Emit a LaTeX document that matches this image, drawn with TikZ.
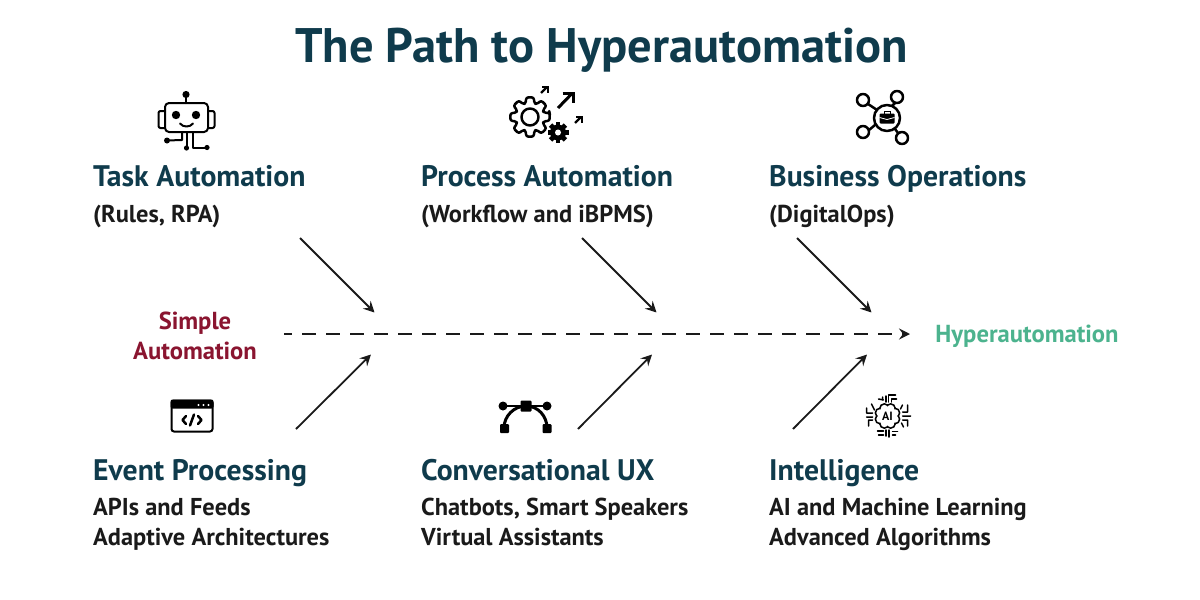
\documentclass[tikz,border=0pt]{standalone}
\usepackage{fontspec}
\setmainfont{PT Sans}
\usetikzlibrary{arrows.meta}
\definecolor{titlec}{HTML}{0F3B4C}
\definecolor{redc}{HTML}{8A1530}
\definecolor{greenc}{HTML}{4CB38E}
\definecolor{bodyc}{HTML}{1A1A1A}
\newcommand{\fs}[1]{\fontsize{#1}{#1}\selectfont}
\tikzset{
  titletext/.style={inner sep=0,anchor=base,text=titlec,font=\fs{48.5}\bfseries},
  headtext/.style={inner sep=0,anchor=base west,text=titlec,font=\fs{29.7}\bfseries},
  subtext/.style={inner sep=0,anchor=base west,text=bodyc,font=\fs{24.4}\bfseries},
  endtext/.style={inner sep=0,anchor=base,font=\fs{24.6}\bfseries},
  spoke/.style={line width=1.8pt,draw=bodyc,-{Stealth[length=11pt,width=11pt,inset=4pt]}},
  spine/.style={line width=1.8pt,draw=bodyc,dash pattern=on 14pt off 10pt,dash phase=6pt,-{Stealth[length=11pt,width=11pt,inset=4pt]}},
  ic/.style={line width=2pt,draw=black,line cap=round,line join=round},
  ict/.style={line width=2.5pt,draw=black,line cap=round,line join=round},
  icsmall/.style={line width=1.5pt,draw=black,line cap=round,line join=round},
}
\begin{document}
\begin{tikzpicture}[x=1pt,y=-1pt]
\useasboundingbox (0,0) rectangle (1200,600);
\fill[white] (0,0) rectangle (1200,600);
\node[titletext] (title) at (601.5,62) {The Path to Hyperautomation};
% top labels
\node[headtext] (h1) at (93,186.5) {Task Automation};
\node[subtext] (s1) at (93,222) {(Rules, RPA)};
\node[headtext] (h2) at (421,186.5) {Process Automation};
\node[subtext] (s2) at (421,222) {(Workflow and iBPMS)};
\node[headtext] (h3) at (769,186.5) {Business Operations};
\node[subtext] (s3) at (769,222) {(DigitalOps)};
% bottom labels
\node[headtext] (h4) at (93,480.5) {Event Processing};
\node[subtext] (s4a) at (93,515) {APIs and Feeds};
\node[subtext] (s4b) at (93,545) {Adaptive Architectures};
\node[headtext] (h5) at (421,480.5) {Conversational UX};
\node[subtext] (s5a) at (421,515) {Chatbots, Smart Speakers};
\node[subtext] (s5b) at (421,545) {Virtual Assistants};
\node[headtext] (h6) at (769,480.5) {Intelligence};
\node[subtext] (s6a) at (769,515) {AI and Machine Learning};
\node[subtext] (s6b) at (769,545) {Advanced Algorithms};
% ends
\node[endtext,text=redc] (simple1) at (195,329) {Simple};
\node[endtext,text=redc] (simple2) at (195,359) {Automation};
\node[endtext,text=greenc] (hyper) at (1027,342) {Hyperautomation};
% connectors
\coordinate (sp0) at (284,334); \coordinate (sp1) at (910,334);
\draw[spine] (sp0) -- (sp1);
\foreach \n/\xa/\ya/\xb/\yb in {a/300/238/374.5/312.5,b/582/238/656.5/312.5,c/797/238/871.5/312.5,d/296/429/371/354.5,e/578/429/652/354.5,f/793/429/867/354.5}{
  \coordinate (\n0) at (\xa,\ya); \coordinate (\n1) at (\xb,\yb);
  \draw[spoke] (\n0) -- (\n1);
}
% robot
\draw[ic,rounded corners=4pt] (165,103) rectangle (208,132);
\draw[ic,rounded corners=2pt] (165,111) -- (158.5,111) -- (158.5,128) -- (165,128);
\draw[ic,rounded corners=2pt] (208,111) -- (214.5,111) -- (214.5,128) -- (208,128);
\fill[black] (186,94.5) circle (3.6);
\draw[ic] (186,95) -- (186,103);
\fill[black] (176,115) circle (4.2) (196,115) circle (4.2);
\draw[ic] (180,123.5) .. controls (183,127.5) and (190,127.5) .. (193,123.5);
\draw[ic] (182,132) -- (182,140) -- (167,140.5);
\fill[black] (167,140.5) circle (3);
\draw[ic] (186.5,132) -- (186.5,147.5);
\fill[black] (186.5,148) circle (2.6);
\draw[ic] (193,132) -- (193,147.5) -- (207,147.5);
\fill[black] (207,147.5) circle (2.6);
% gears
\begin{scope}[shift={(530,117)}]
\draw[ict,rounded corners=2.2pt] (-12:20)
  foreach \a in {0,45,...,315} { -- (\a-11:20) -- (\a+11:20) -- (\a+17:14.5) -- (\a+28:14.5) } -- cycle;
\draw[ict] (0,0) circle (8.5);
\end{scope}
\begin{scope}[shift={(558,132.5)}]
\fill[black] (0,0) circle (8);
\foreach \a in {0,45,...,315}{\fill[black,rotate=\a] (7,-2.4) rectangle (10.5,2.4);}
\fill[white] (0,0) circle (3);
\end{scope}
\draw[line width=3pt,draw=black] (558,108) -- (572,93.5);
\draw[line width=3pt,draw=black] (562.5,93) -- (573,93) -- (573,103);
\draw[line width=2.4pt,draw=black] (541,93) -- (547,87);
\draw[line width=2.6pt,draw=black] (542,87) -- (548,87) -- (548,93);
\draw[line width=2.4pt,draw=black] (575,123) -- (581,117);
\draw[line width=2.6pt,draw=black] (576,117) -- (582,117) -- (582,123);
% network
\draw[ict] (887,118) circle (13);
\draw[ict] (863,100) circle (6) (897,97) circle (6) (863,132) circle (6) (902,138) circle (6);
\draw[ict] (868,104) -- (877,110) (895,103) -- (892,106) (869,130) -- (875,125) (898,133) -- (895,129);
\fill[black,rounded corners=1pt] (879.5,113.5) rectangle (894.5,123.5);
\draw[line width=1pt] (884,113.5) -- (884,111.5) -- (890,111.5) -- (890,113.5);
\draw[white,line width=.8pt] (879.5,117.5) -- (887,119.5) -- (894.5,117.5);
% window
\draw[ic,rounded corners=2.5pt] (171.5,400.5) rectangle (212.5,431.5);
\fill[black,rounded corners=2pt] (170.5,399.5) rectangle (213.5,408.5);
\fill[white] (198.5,405) circle (1.1) (203.5,405) circle (1.1) (208.5,405) circle (1.1);
\draw[ict] (186,416) -- (182.5,420) -- (186,424) (198,416) -- (201.5,420) -- (198,424) (194,414.5) -- (190,425.5);
% bezier
\draw[line width=3pt,draw=black] (504,428) .. controls (504,416) and (514,406) .. (526,406) .. controls (538,406) and (547,416) .. (547,428);
\draw[line width=2.5pt] (503,406) -- (547,406);
\fill[black] (503,406) circle (4.5) (547,406) circle (4.5);
\fill[black,rounded corners=1pt] (520.5,400.5) rectangle (531.5,411.5);
\fill[black,rounded corners=1pt] (500,424) rectangle (509,433);
\fill[black,rounded corners=1pt] (542.5,424) rectangle (551.5,433);
% AI
\begin{scope}[shift={(887.5,416)}]
\foreach \a in {0,45,...,315}{\fill[black] (\a+22.5:8.2) circle (5.4);}
\foreach \a in {0,45,...,315}{\fill[white] (\a+22.5:8.2) circle (3.6);}
\fill[white] (0,0) circle (9.5);
\node[inner sep=0,font=\fs{12}\bfseries] (ailabel) at (0,0) {AI};
\draw[icsmall] (-1.5,-14) -- (-1.5,-20) (1,-14) -- (1,-21) -- (8,-21) (4,-14) -- (4,-17) -- (9,-17);
\draw[icsmall] (-4,-16) -- (-9,-17) (-5,-16) -- (-5,-19);
\draw[icsmall] (-1.5,14) -- (-1.5,20) (1.5,14) -- (1.5,21) (5,15.5) -- (10,15.5) (-4,15) -- (-10,15) (-4,19) -- (-9,19) (5,19) -- (8,19);
\draw[icsmall] (-15,-3) -- (-21,-3) -- (-21,-8) (-15,1) -- (-21,1) (-15,4) -- (-19,4) -- (-19,10) (-13,-6) -- (-16,-12);
\draw[icsmall] (15,-4) -- (20,-4) -- (20,-11) (15,0) -- (23,0) (15,4) -- (20,4) -- (20,10) (13,-7) -- (15,-11) (14,7) -- (16,11);
\end{scope}
\end{tikzpicture}
\end{document}
